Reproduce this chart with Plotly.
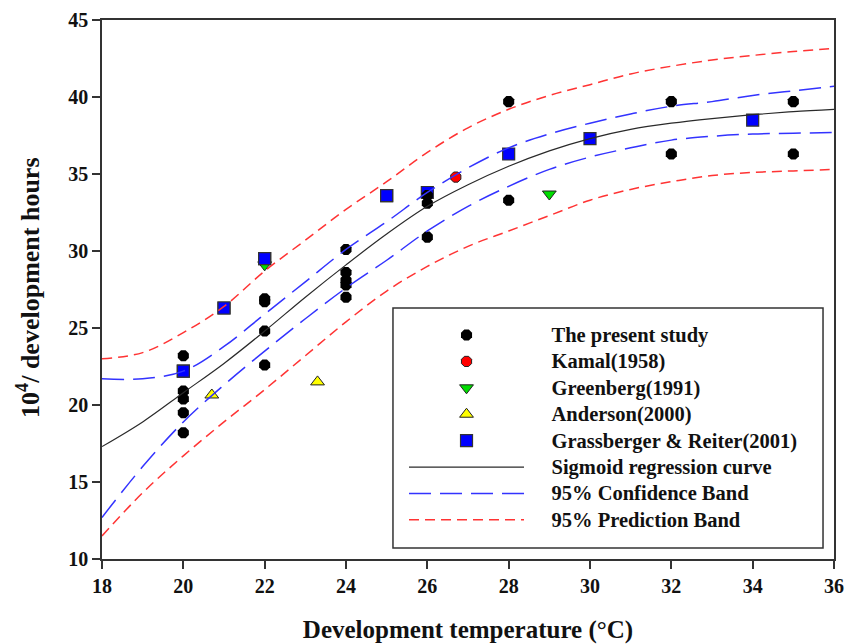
import plotly.graph_objects as go

# ---- data ----
present_x = [20, 20, 20, 20, 20, 22, 22, 22, 22, 24, 24, 24, 24, 24, 26, 26, 26, 28, 28, 32, 32, 35, 35]
present_y = [23.2, 20.9, 20.4, 19.5, 18.2, 26.9, 26.7, 24.8, 22.6, 30.1, 28.6, 28.1, 27.8, 27.0, 33.6, 33.1, 30.9, 39.7, 33.3, 39.7, 36.3, 39.7, 36.3]

kamal_x = [26.7]
kamal_y = [34.8]

greenberg_x = [22, 29]
greenberg_y = [29.1, 33.7]

anderson_x = [20.7, 23.3]
anderson_y = [20.65, 21.5]

grass_x = [20, 21, 22, 25, 26, 28, 30, 34]
grass_y = [22.2, 26.3, 29.5, 33.6, 33.8, 36.3, 37.3, 38.5]

curve_x = [18, 19, 20, 21, 22, 23, 24, 25, 26, 27, 28, 29, 30, 31, 32, 33, 34, 35, 36]
sigmoid_y = [17.3, 18.9, 20.8, 22.7, 24.8, 27.0, 29.1, 31.1, 32.9, 34.3, 35.5, 36.5, 37.3, 37.9, 38.3, 38.6, 38.85, 39.05, 39.2]
ci_upper = [21.7, 21.7, 22.2, 23.8, 25.9, 28.0, 30.1, 31.9, 33.8, 35.4, 36.7, 37.6, 38.3, 38.9, 39.4, 39.7, 40.1, 40.4, 40.7]
ci_lower = [12.7, 16.0, 18.9, 21.3, 23.5, 25.6, 27.6, 29.4, 31.3, 32.9, 34.2, 35.3, 36.1, 36.7, 37.2, 37.45, 37.6, 37.65, 37.7]
pi_upper = [23.0, 23.4, 24.7, 26.4, 28.7, 30.7, 32.7, 34.5, 36.4, 38.0, 39.2, 40.1, 40.8, 41.5, 42.0, 42.4, 42.7, 42.95, 43.15]
pi_lower = [11.5, 14.3, 16.7, 18.9, 21.0, 23.2, 25.4, 27.4, 29.0, 30.3, 31.3, 32.3, 33.3, 34.0, 34.5, 34.9, 35.1, 35.2, 35.3]

x_ticks = [18, 20, 22, 24, 26, 28, 30, 32, 34, 36]
y_ticks = [10, 15, 20, 25, 30, 35, 40, 45]

FONT = "Liberation Serif"
PAD = "\u00a0" * 5


def lname(t):
    return f"{PAD}<span style='font-size:20.5px'><b>{t}</b></span>\u00a0\u00a0\u00a0"


fig = go.Figure()

# markers (drawn first, lines on top)
fig.add_trace(go.Scatter(x=grass_x, y=grass_y, mode="markers", name=lname("Grassberger &amp; Reiter(2001)"),
                         legendrank=5,
                         marker=dict(symbol="square", size=12, color="#0000ff",
                                     line=dict(color="#333333", width=1.2))))
fig.add_trace(go.Scatter(x=present_x, y=present_y, mode="markers", name=lname("The present study"),
                         legendrank=1,
                         marker=dict(symbol="octagon", size=12, color="#000000",
                                     line=dict(color="#000000", width=0))))
fig.add_trace(go.Scatter(x=kamal_x, y=kamal_y, mode="markers", name=lname("Kamal(1958)"),
                         legendrank=2,
                         marker=dict(symbol="octagon", size=11, color="#ff0000",
                                     line=dict(color="#222222", width=1))))
fig.add_trace(go.Scatter(x=greenberg_x, y=greenberg_y, mode="markers", name=lname("Greenberg(1991)"),
                         legendrank=3,
                         marker=dict(symbol="triangle-down", size=12, color="#00dd00",
                                     line=dict(color="#222222", width=1))))
fig.add_trace(go.Scatter(x=anderson_x, y=anderson_y, mode="markers", name=lname("Anderson(2000)"),
                         legendrank=4,
                         marker=dict(symbol="triangle-up", size=12, color="#ffff00",
                                     line=dict(color="#222222", width=1))))
# Grassberger squares that sit on top of other markers
fig.add_trace(go.Scatter(x=grass_x[:4], y=grass_y[:4], mode="markers", showlegend=False,
                         marker=dict(symbol="square", size=12, color="#0000ff",
                                     line=dict(color="#333333", width=1.2))))

# curves
fig.add_trace(go.Scatter(x=curve_x, y=sigmoid_y, mode="lines", name=lname("Sigmoid regression curve"),
                         legendrank=6, line=dict(color="#2a2a2a", width=1.2, shape="spline")))
fig.add_trace(go.Scatter(x=curve_x, y=ci_upper, mode="lines", name=lname("95% Confidence Band"),
                         legendrank=7, legendgroup="ci",
                         line=dict(color="#3333ff", width=1.5, dash="22px,9px", shape="spline")))
fig.add_trace(go.Scatter(x=curve_x, y=ci_lower, mode="lines", showlegend=False, legendgroup="ci",
                         line=dict(color="#3333ff", width=1.5, dash="22px,9px", shape="spline")))
fig.add_trace(go.Scatter(x=curve_x, y=pi_upper, mode="lines", name=lname("95% Prediction Band"),
                         legendrank=8, legendgroup="pi",
                         line=dict(color="#ff3333", width=1.5, dash="10px,6px", shape="spline")))
fig.add_trace(go.Scatter(x=curve_x, y=pi_lower, mode="lines", showlegend=False, legendgroup="pi",
                         line=dict(color="#ff3333", width=1.5, dash="10px,6px", shape="spline")))

axis_common = dict(showgrid=False, zeroline=False, showline=True, linecolor="#333333", linewidth=1.5,
                   mirror=True, ticks="outside", ticklen=8, tickwidth=1.5, tickcolor="#333333",
                   automargin=False,
                   tickfont=dict(family=FONT, size=20, color="#111111"))

fig.update_layout(
    width=849, height=644,
    paper_bgcolor="white", plot_bgcolor="white",
    margin=dict(l=102, r=15, t=20, b=85, autoexpand=False),
    font=dict(family=FONT, color="#111111"),
    xaxis=dict(range=[18, 36], tickvals=x_ticks, ticktext=[f"<b>{v}</b>" for v in x_ticks],
               title=dict(text="<b>Development temperature (°C)</b>", font=dict(family=FONT, size=25),
                          standoff=27),
               **axis_common),
    yaxis=dict(range=[10, 45], tickvals=y_ticks, ticktext=[f"<b>{v}</b>" for v in y_ticks],
               **axis_common),
    annotations=[dict(text="<b>10<sup>4</sup>/ development hours</b>", textangle=-90,
                      xref="paper", yref="paper", x=-0.0997, y=0.503,
                      xanchor="center", yanchor="middle", showarrow=False,
                      font=dict(family=FONT, size=26, color="#111111"))],
    legend=dict(x=0.4126, y=0.4493, xanchor="left", yanchor="top",
                bgcolor="rgba(0,0,0,0)", borderwidth=0,
                font=dict(family=FONT, size=18, color="#111111"),
                itemwidth=115, tracegroupgap=0,
                traceorder="normal"),
    shapes=[dict(type="rect", xref="paper", yref="paper",
                 x0=0.3975, x1=0.985, y0=0.0204, y1=0.4657,
                 line=dict(color="#333333", width=1.5), fillcolor="white", layer="below")],
    showlegend=True,
)

fig.write_html("out.html")
